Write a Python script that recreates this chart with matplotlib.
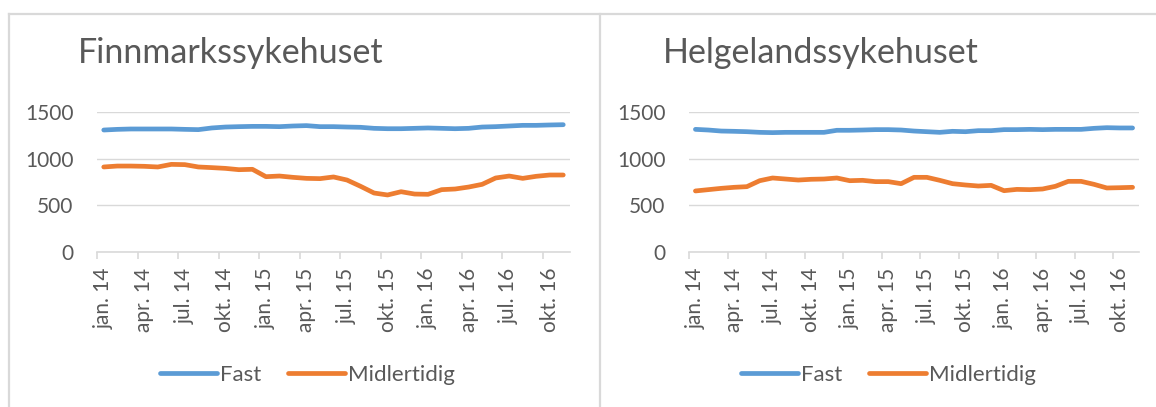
import numpy as np
import matplotlib
matplotlib.use("Agg")
import matplotlib.pyplot as plt
from matplotlib.lines import Line2D

plt.rcParams['font.family'] = ['Lato', 'DejaVu Sans']

# monthly data jan.14 - nov.16
months = ['jan', 'feb', 'mar', 'apr', 'mai', 'jun',
          'jul', 'aug', 'sep', 'okt', 'nov', 'des']
years = ['14', '15', '16']
categories = [f"{m}. {y}" for y in years for m in months][:35]

titles = ['Finnmarkssykehuset', 'Helgelandssykehuset']
series_names = ['Fast', 'Midlertidig']

finnmark_fast = [1307, 1314, 1318, 1318, 1318, 1318, 1314, 1311, 1329, 1339,
                 1343, 1346, 1346, 1343, 1350, 1354, 1343, 1343, 1339, 1336,
                 1325, 1321, 1321, 1325, 1329, 1325, 1321, 1325, 1339, 1343,
                 1350, 1357, 1357, 1361, 1364]
finnmark_midl = [911, 921, 921, 918, 911, 939, 936, 911, 904, 896,
                 882, 886, 807, 814, 800, 789, 786, 804, 771, 704,
                 632, 611, 646, 621, 618, 668, 675, 696, 725, 793,
                 814, 789, 811, 825, 825]
helgeland_fast = [1314, 1307, 1296, 1293, 1289, 1282, 1279, 1282, 1282, 1282,
                  1282, 1304, 1304, 1307, 1311, 1311, 1307, 1296, 1289, 1282,
                  1293, 1289, 1300, 1300, 1311, 1311, 1314, 1311, 1314, 1314,
                  1314, 1325, 1332, 1329, 1329]
helgeland_midl = [654, 668, 682, 693, 700, 764, 793, 782, 771, 779,
                  782, 793, 764, 768, 754, 754, 732, 800, 800, 768,
                  732, 718, 707, 714, 657, 671, 668, 675, 704, 757,
                  757, 725, 686, 689, 693]

panels = [(finnmark_fast, finnmark_midl), (helgeland_fast, helgeland_midl)]

BLUE = '#5B9BD5'
ORANGE = '#ED7D31'
TEXT = '#595959'
GRID = '#D9D9D9'

W, H = 1156, 407
fig = plt.figure(figsize=(W / 100, H / 100), dpi=100)

# chart frames
frame_kw = dict(color=GRID, linewidth=1.6, transform=fig.transFigure)
fig.add_artist(Line2D([9 / W, 1], [1 - 14 / H, 1 - 14 / H], **frame_kw))
fig.add_artist(Line2D([9 / W, 9 / W], [0, 1 - 14 / H], **frame_kw))
fig.add_artist(Line2D([600 / W, 600 / W], [0, 1 - 14 / H], **frame_kw))

ax_px = [(97, 570), (689, 1139)]
title_x = [78, 663]
legend_cx = [307, 888]
x = np.arange(len(categories))

for i, (fast, midl) in enumerate(panels):
    x0, x1 = ax_px[i]
    ax = fig.add_axes([x0 / W, 1 - 252 / H, (x1 - x0) / W, 140 / H])
    ax.plot(x, fast, color=BLUE, linewidth=3.4, solid_capstyle='round',
            label=series_names[0])
    ax.plot(x, midl, color=ORANGE, linewidth=3.4, solid_capstyle='round',
            label=series_names[1])
    ax.set_xlim(-0.5, len(categories) - 0.5)
    ax.set_ylim(0, 1500)
    ax.set_yticks([0, 500, 1000, 1500])
    ax.grid(axis='y', color=GRID, linewidth=1.0)
    ax.set_axisbelow(True)
    for s in ['top', 'right', 'left']:
        ax.spines[s].set_visible(False)
    ax.spines['bottom'].set_color(GRID)
    ax.spines['bottom'].set_linewidth(1.2)

    ax.set_xticks(x[::3])
    ax.set_xticklabels(categories[::3], rotation=90)
    ax.set_xticks(np.arange(-0.5, len(categories) - 1, 3), minor=True)
    ax.tick_params(axis='x', which='major', length=0, pad=11.5,
                   labelsize=15, labelcolor=TEXT)
    ax.tick_params(axis='x', which='minor', length=5, width=1.2, color=GRID)
    ax.tick_params(axis='y', length=0, pad=17, labelsize=15, labelcolor=TEXT)

    fig.text(title_x[i] / W, 1 - 63 / H, titles[i], fontsize=24.5,
             color=TEXT, va='baseline', ha='left')

    handles, labels = ax.get_legend_handles_labels()
    fig.legend(handles, labels, loc='center',
               bbox_to_anchor=(legend_cx[i] / W, 1 - 375 / H),
               ncol=2, frameon=False, fontsize=16, labelcolor=TEXT,
               handlelength=2.6, handletextpad=0.1, columnspacing=1.2)

fig.savefig('out.png', dpi=100)
